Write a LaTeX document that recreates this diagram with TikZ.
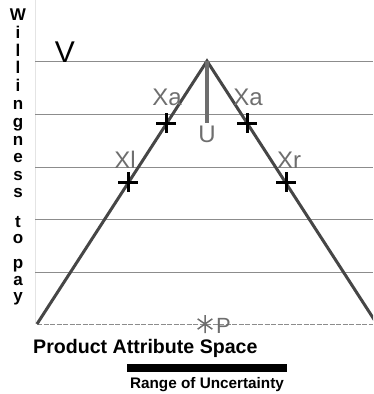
\documentclass[tikz,border=0pt]{standalone}
\usepackage{fontspec}
\setmainfont{Liberation Sans}
\usetikzlibrary{positioning}
\definecolor{GridGray}{RGB}{140,140,140}
\definecolor{EdgeGray}{RGB}{70,70,70}
\definecolor{LabelGray}{RGB}{110,110,110}
\definecolor{AxisFaint}{RGB}{228,228,228}

\begin{document}
\begin{tikzpicture}[x=1pt, y=-1pt,
          grid/.style={draw=GridGray, line width=1pt},
          side/.style={draw=EdgeGray, line width=3pt},
          lbl/.style={font=\fontsize{24}{24}\selectfont, text=LabelGray,
                      inner sep=0pt, anchor=base},
          tick/.style={draw=black, line width=3pt},
          axl/.style={font=\fontsize{17}{17}\selectfont\bfseries,
                      inner sep=0pt, anchor=base}
        ]
        \useasboundingbox (0,0) rectangle (373,394);
        \clip (0,0) rectangle (373,394);

        % Axis label (stacked letters)
        \draw[AxisFaint] (35,0) -- (35,324);
        \foreach \c/\y in {W/20, i/38, l/56, l/73, i/91, n/109, g/127,
                           n/145, e/162, s/180, s/197, t/227, o/243,
                           p/268, a/285, y/301}
          \node[axl] (ax\y) at (18,\y) {\c};

        % Price levels
        \foreach \y in {61,114,167,219,272}
          \draw[grid] (35,\y) -- (373,\y);
        \draw[GridGray, line width=1pt, dash pattern=on 5pt off 1.5pt]
              (37,324) -- (373,324);

        \node[font=\fontsize{30}{30}\selectfont, anchor=base, inner sep=0pt]
              (vlbl) at (65,62) {V};

        % Triangle
        \coordinate (apex)  at (207,61);
        \coordinate (baseL) at (37,324);
        \coordinate (baseR) at (377,324);
        \coordinate (uEnd)  at (207,123);
        \draw[side] (baseL) -- (apex) -- (baseR);
        \draw[LabelGray, line width=4pt] (apex) -- (uEnd);
        \node[lbl] (ulbl) at (207,142) {U};

        % Attribute points
        \coordinate (xaL) at (166,123);
        \coordinate (xaR) at (247,123);
        \coordinate (xl)  at (128,182);
        \coordinate (xr)  at (286,182);
        \foreach \p in {xaL, xaR, xl, xr}
          \draw[tick] (\p) +(-10,0) -- +(10,0) +(0,-10) -- +(0,10);

        \node[lbl] (xaLlbl) at (167,105) {Xa};
        \node[lbl] (xaRlbl) at (248,105) {Xa};
        \node[lbl] (xllbl)  at (125,168) {Xl};
        \node[lbl] (xrlbl)  at (289,168) {Xr};

        % Ideal point P
        \coordinate (pstar) at (205,324);
        \draw[LabelGray, line width=1.5pt]
              (pstar) +(90:9) -- +(270:9)
              +(35:9) -- +(215:9)
              +(145:9) -- +(325:9);
        \node[lbl, font=\fontsize{22}{22}\selectfont, anchor=base west]
              (plbl) at (216,333) {P};

        % Bottom labels
        \node[font=\fontsize{19.6}{19.6}\selectfont\bfseries, anchor=base west,
              inner sep=0pt] (space) at (33,353) {Product Attribute Space};
        \node[fill=black, minimum width=160pt, minimum height=8pt,
              inner sep=0pt] (range) at (207,368) {};
        \node[font=\fontsize{15.3}{15.3}\selectfont\bfseries, anchor=base,
              inner sep=0pt] (rangelbl) at (207,388) {Range of Uncertainty};
      \end{tikzpicture}
\end{document}
